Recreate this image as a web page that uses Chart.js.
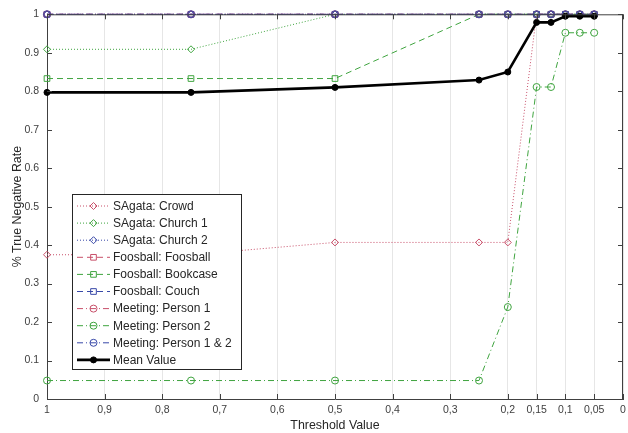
<!DOCTYPE html>
<html>
<head>
<meta charset="utf-8">
<script src="https://cdn.jsdelivr.net/npm/chart.js@4.4.0/dist/chart.umd.min.js"></script>
<style>
  html, body { margin: 0; padding: 0; background: #fff; }
  #wrap { width: 628px; height: 433px; }
</style>
</head>
<body>
<div id="wrap"><canvas id="tnrChart"></canvas></div>
<script>
// data
const thresholds = [1, 0.75, 0.5, 0.25, 0.2, 0.15, 0.125, 0.1, 0.075, 0.05];

const sagataCrowd   = [0.375, 0.375, 0.407, 0.407, 0.407, 1, 1, 1, 1, 1];
const sagataChurch1 = [0.909, 0.909, 1, 1, 1, 1, 1, 1, 1, 1];
const sagataChurch2 = [1, 1, 1, 1, 1, 1, 1, 1, 1, 1];
const foosFoosball  = [1, 1, 1, 1, 1, 1, 1, 1, 1, 1];
const foosBookcase  = [0.833, 0.833, 0.833, 1, 1, 1, 1, 1, 1, 1];
const foosCouch     = [1, 1, 1, 1, 1, 1, 1, 1, 1, 1];
const meetPerson1   = [1, 1, 1, 1, 1, 1, 1, 1, 1, 1];
const meetPerson2   = [0.048, 0.048, 0.048, 0.048, 0.239, 0.811, 0.811, 0.952, 0.952, 0.952];
const meetPerson12  = [1, 1, 1, 1, 1, 1, 1, 1, 1, 1];
const meanValue     = [0.797, 0.797, 0.81, 0.829, 0.85, 0.979, 0.979, 0.995, 0.995, 0.995];

const xTicks = [1, 0.9, 0.8, 0.7, 0.6, 0.5, 0.4, 0.3, 0.2, 0.15, 0.1, 0.05, 0];
const xTickLabels = ['1', '0,9', '0,8', '0,7', '0,6', '0,5', '0,4', '0,3', '0,2', '0,15', '0,1', '0,05', '0'];
const yTicks = [0, 0.1, 0.2, 0.3, 0.4, 0.5, 0.6, 0.7, 0.8, 0.9, 1];
const yTickLabels = ['0', '0.1', '0.2', '0.3', '0.4', '0.5', '0.6', '0.7', '0.8', '0.9', '1'];

const RED = '#c8506a', GREEN = '#3fa43f', BLUE = '#3848a8';
const DOT = [1, 2], DASH = [6, 4], DASHDOT = [6, 3, 1, 3];

Chart.defaults.font.family = "'Liberation Sans', Arial, sans-serif";

function series(label, values, color, dash, marker) {
  return {
    label: label,
    data: thresholds.map((t, i) => ({ x: t, y: values[i] })),
    borderColor: color,
    borderWidth: 1,
    borderDash: dash,
    pointStyle: marker,
    pointRadius: marker === 'rect' ? 4 : 3.5,
    pointBorderColor: color,
    pointBackgroundColor: 'rgba(0,0,0,0)',
    pointBorderWidth: 1,
    tension: 0,
    clip: false
  };
}

const datasets = [
  series('SAgata: Crowd', sagataCrowd, RED, DOT, 'rectRot'),
  series('SAgata: Church 1', sagataChurch1, GREEN, DOT, 'rectRot'),
  series('SAgata: Church 2', sagataChurch2, BLUE, DOT, 'rectRot'),
  series('Foosball: Foosball', foosFoosball, RED, DASH, 'rect'),
  series('Foosball: Bookcase', foosBookcase, GREEN, DASH, 'rect'),
  series('Foosball: Couch', foosCouch, BLUE, DASH, 'rect'),
  series('Meeting: Person 1', meetPerson1, RED, DASHDOT, 'circle'),
  series('Meeting: Person 2', meetPerson2, GREEN, DASHDOT, 'circle'),
  series('Meeting: Person 1 & 2', meetPerson12, BLUE, DASHDOT, 'circle'),
  {
    label: 'Mean Value',
    data: thresholds.map((t, i) => ({ x: t, y: meanValue[i] })),
    borderColor: '#000',
    borderWidth: 2.6,
    pointStyle: 'circle',
    pointRadius: 3,
    pointBackgroundColor: '#000',
    pointBorderColor: '#000',
    pointBorderWidth: 1,
    tension: 0,
    clip: false
  }
];
// matlab draws later lines on top
datasets.forEach((d, i) => { d.order = datasets.length - i; });

const AXIS = '#404040';

// box + inward ticks like matlab
const boxTicks = {
  id: 'boxTicks',
  afterDatasetsDraw(chart) {
    const { ctx, chartArea: a, scales } = chart;
    ctx.save();
    ctx.strokeStyle = AXIS;
    ctx.lineWidth = 1;
    ctx.beginPath();
    ctx.moveTo(a.left, a.top + 0.5); ctx.lineTo(a.right, a.top + 0.5);
    ctx.moveTo(a.right - 0.5, a.top); ctx.lineTo(a.right - 0.5, a.bottom);
    xTicks.forEach(v => {
      const x = Math.round(scales.x.getPixelForValue(v)) + 0.5;
      ctx.moveTo(x, a.bottom); ctx.lineTo(x, a.bottom - 5);
      ctx.moveTo(x, a.top); ctx.lineTo(x, a.top + 5);
    });
    yTicks.forEach(v => {
      const y = Math.round(scales.y.getPixelForValue(v)) + 0.5;
      ctx.moveTo(a.left, y); ctx.lineTo(a.left + 5, y);
      ctx.moveTo(a.right, y); ctx.lineTo(a.right - 5, y);
    });
    ctx.stroke();
    ctx.restore();
  }
};

// legend box inside the axes
const insideLegend = {
  id: 'insideLegend',
  afterDraw(chart) {
    const ctx = chart.ctx;
    const bx = 72.5, by = 194.5, bw = 169, bh = 175;
    ctx.save();
    ctx.fillStyle = '#fff';
    ctx.fillRect(bx, by, bw, bh);
    ctx.strokeStyle = '#262626';
    ctx.lineWidth = 1;
    ctx.strokeRect(bx, by, bw, bh);
    ctx.font = "12px 'Liberation Sans', Arial, sans-serif";
    ctx.textBaseline = 'middle';
    chart.data.datasets.forEach((d, i) => {
      const y = 206 + i * 17.1;
      ctx.strokeStyle = d.borderColor;
      ctx.lineWidth = d.borderWidth;
      ctx.setLineDash(d.borderDash || []);
      ctx.beginPath();
      ctx.moveTo(77, y); ctx.lineTo(110, y);
      ctx.stroke();
      ctx.setLineDash([]);
      ctx.fillStyle = d.pointBackgroundColor;
      ctx.strokeStyle = d.pointBorderColor;
      ctx.lineWidth = 1;
      Chart.helpers.drawPoint(ctx, { pointStyle: d.pointStyle, radius: d.pointRadius, rotation: 0, borderWidth: 1 }, 93.5, y);
      ctx.fillStyle = '#262626';
      ctx.fillText(d.label, 113, y + 0.5);
    });
    ctx.restore();
  }
};

const ctx = document.getElementById('tnrChart').getContext('2d');
new Chart(ctx, {
  type: 'line',
  data: { datasets: datasets },
  options: {
    responsive: true,
    maintainAspectRatio: false,
    animation: false,
    layout: { padding: { top: 12.5, right: 1, left: 0, bottom: 0 } },
    plugins: {
      legend: { display: false },
      tooltip: { enabled: false }
    },
    scales: {
      x: {
        type: 'linear',
        reverse: true,
        min: 0,
        max: 1,
        afterBuildTicks: s => { s.ticks = xTicks.map(v => ({ value: v })); },
        afterFit: s => { s.height = 34; s.paddingLeft = 0; s.paddingRight = 0; },
        ticks: {
          autoSkip: false,
          maxRotation: 0,
          padding: 5,
          color: AXIS,
          font: { size: 10.5 },
          callback: v => xTickLabels[xTicks.indexOf(v)]
        },
        grid: { color: '#e6e6e6', drawTicks: false },
        border: { color: AXIS },
        title: { display: true, text: 'Threshold Value', color: '#262626', font: { size: 12.4 }, padding: { top: 0, bottom: 0 } }
      },
      y: {
        type: 'linear',
        min: 0,
        max: 1,
        afterBuildTicks: s => { s.ticks = yTicks.map(v => ({ value: v })); },
        afterFit: s => { s.width = 47; },
        ticks: {
          padding: 8,
          color: AXIS,
          font: { size: 10.5 },
          callback: v => yTickLabels[yTicks.indexOf(v)]
        },
        grid: { display: false, drawTicks: false },
        border: { color: AXIS },
        title: { display: true, text: '% True Negative Rate', color: '#262626', font: { size: 12.4 }, padding: { top: 10, bottom: 0 } }
      }
    }
  },
  plugins: [boxTicks, insideLegend]
});
</script>
</body>
</html>
